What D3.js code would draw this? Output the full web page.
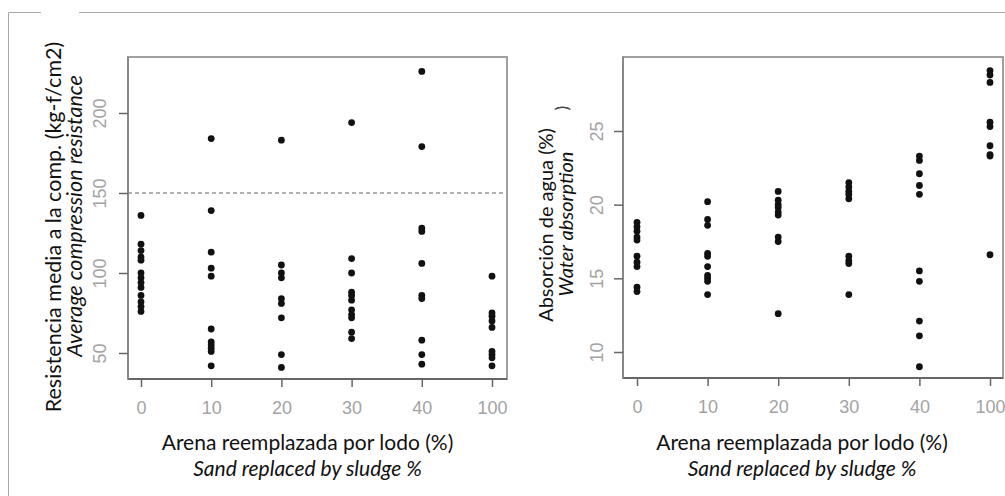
<!DOCTYPE html>
<html>
<head>
<meta charset="utf-8">
<script src="https://cdn.jsdelivr.net/npm/d3@7"></script>
<style>
  body { margin: 0; background: #fff; }
  svg { display: block; }
  .tick-label { font-family: "Liberation Sans", Arial, sans-serif; font-size: 18px; fill: #a3a3a3; }
  .title { font-family: Lato, "Open Sans", sans-serif; font-size: 21px; fill: #111; }
</style>
</head>
<body>
<svg id="chart" width="1005" height="496"></svg>
<script>
// sand replaced by sludge, % (categorical on the x axis)
const categories = ['0', '10', '20', '30', '40', '100'];

// average compression resistance (kg-f/cm2), one list per category
const resistance = [
  [136, 118, 114, 110, 108, 100, 97, 94, 91, 86, 82, 79, 76],
  [184, 139, 113, 103, 98, 65, 57, 55, 53, 51, 42],
  [183, 105, 100, 97, 84, 81, 72, 49, 41],
  [194, 109, 100, 88, 86, 83, 77, 74, 72, 63, 59],
  [226, 179, 128, 126, 106, 86, 84, 58, 49, 43],
  [98, 75, 73, 70, 66, 51, 49, 47, 42]
];
const resistanceTicks = [50, 100, 150, 200];
const resistanceLimit = 150;

// water absorption (%), one list per category
const absorption = [
  [18.8, 18.5, 18.2, 17.8, 17.6, 16.5, 16.1, 15.8, 14.4, 14.1],
  [20.2, 19.0, 18.6, 16.7, 16.5, 15.8, 15.2, 15.0, 14.8, 13.9],
  [20.9, 20.3, 20.0, 19.8, 19.5, 19.3, 17.8, 17.5, 12.6],
  [21.5, 21.2, 20.9, 20.7, 20.4, 16.5, 16.2, 16.0, 13.9],
  [23.3, 23.0, 22.1, 21.3, 20.7, 15.5, 14.8, 12.1, 11.1, 9.0],
  [29.1, 28.8, 28.3, 25.6, 25.3, 24.0, 23.4, 23.3, 16.6]
];
const absorptionTicks = [10, 15, 20, 25];

const xTitle = ['Arena reemplazada por lodo (%)', 'Sand replaced by sludge %'];

const svg = d3.select('#chart');

// outer frame (only top and left edges are visible in the frame)
svg.append('path')
  .attr('d', 'M8.5,496 V12.5 H1005')
  .attr('fill', 'none').attr('stroke', '#a8a8a8').attr('stroke-width', 1);
svg.append('rect').attr('x', 41).attr('y', 10).attr('width', 38).attr('height', 5).attr('fill', '#fff');

/** one R-style stripchart panel */
function panel(opt) {
  const g = svg.append('g');
  const x = d3.scalePoint().domain(categories).range(opt.xr);
  const y = d3.scaleLinear().domain(opt.yd).range(opt.yr);
  const [bx0, bx1, by0, by1] = opt.box;

  if (opt.refLine != null) {
    g.append('line')
      .attr('x1', bx0).attr('x2', bx1)
      .attr('y1', y(opt.refLine)).attr('y2', y(opt.refLine))
      .attr('stroke', '#b0b0b0').attr('stroke-width', 2)
      .attr('stroke-dasharray', '4,3');
  }

  g.append('rect')
    .attr('x', bx0).attr('y', by0)
    .attr('width', bx1 - bx0).attr('height', by1 - by0)
    .attr('fill', 'none').attr('stroke', '#a0a0a0').attr('stroke-width', 2);

  // bottom axis
  const xa = g.append('g').attr('transform', 'translate(0,' + by1 + ')')
    .call(d3.axisBottom(x).tickSize(8).tickPadding(14));
  xa.select('.domain').attr('d', 'M' + bx0 + ',0H' + bx1).attr('stroke', '#666').attr('stroke-width', 2);
  xa.selectAll('.tick line').attr('stroke', '#666').attr('stroke-width', 1.5);
  xa.selectAll('.tick text').attr('class', 'tick-label').attr('font-size', null).attr('font-family', null);

  // left axis, rotated labels as in R
  const ya = g.append('g').attr('transform', 'translate(' + bx0 + ',0)')
    .call(d3.axisLeft(y).tickValues(opt.ticks).tickSize(9).tickFormat(d3.format('d')));
  ya.select('.domain').attr('d', 'M0,' + by0 + 'V' + by1).attr('stroke', '#888').attr('stroke-width', 2);
  ya.selectAll('.tick line').attr('stroke', '#666').attr('stroke-width', 1.5);
  ya.selectAll('.tick text')
    .attr('class', 'tick-label').attr('font-size', null).attr('font-family', null)
    .attr('x', 0).attr('dy', null)
    .attr('text-anchor', 'middle')
    .attr('dominant-baseline', 'central')
    .attr('transform', 'translate(' + (opt.tickLabelX - bx0) + ',0) rotate(-90)');

  // points
  const pts = [];
  opt.values.forEach((list, i) => list.forEach(v => pts.push({ c: categories[i], v })));
  g.append('g').selectAll('circle').data(pts).join('circle')
    .attr('cx', d => x(d.c)).attr('cy', d => y(d.v))
    .attr('r', 3.4).attr('fill', '#111');

  // y title, two lines
  opt.yTitle.forEach((t, i) => {
    g.append('text').attr('class', 'title')
      .attr('font-style', i ? 'italic' : null)
      .style('font-size', opt.yTitleSize + 'px')
      .attr('text-anchor', 'middle')
      .attr('dominant-baseline', 'central')
      .attr('transform', 'translate(' + t.x + ',' + t.y + ') rotate(-90)')
      .text(t.text);
  });

  // x title, two lines
  const cx = (bx0 + bx1) / 2 + opt.xTitleShift;
  xTitle.forEach((t, i) => {
    g.append('text').attr('class', 'title')
      .attr('font-style', i ? 'italic' : null)
      .attr('text-anchor', 'middle')
      .attr('x', cx).attr('y', 450 + i * 26)
      .text(t);
  });
  return g;
}

panel({
  xr: [141, 492], yd: [50, 200], yr: [353, 113],
  box: [128, 507, 57, 379],
  ticks: resistanceTicks, tickLabelX: 100,
  refLine: resistanceLimit,
  values: resistance,
  yTitleSize: 21.5,
  yTitle: [
    { text: 'Resistencia media a la comp. (kg-f/cm2)', x: 53, y: 227 },
    { text: 'Average compression resistance', x: 74, y: 216 }
  ],
  xTitleShift: -10
});

const right = panel({
  xr: [637, 990], yd: [10, 25], yr: [352, 131],
  box: [623, 1003, 57, 378],
  ticks: absorptionTicks, tickLabelX: 597,
  refLine: null,
  values: absorption,
  yTitleSize: 20,
  yTitle: [
    { text: 'Absorción de agua (%)', x: 545, y: 225 },
    { text: 'Water absorption', x: 565, y: 224 }
  ],
  xTitleShift: -11
});

// stray parenthesis left over in the original figure
right.append('text').attr('class', 'title')
  .style('fill', '#444').style('font-size', '18px')
  .attr('text-anchor', 'middle').attr('dominant-baseline', 'central')
  .attr('transform', 'translate(561,108) rotate(-90)')
  .text(')');
</script>
</body>
</html>
